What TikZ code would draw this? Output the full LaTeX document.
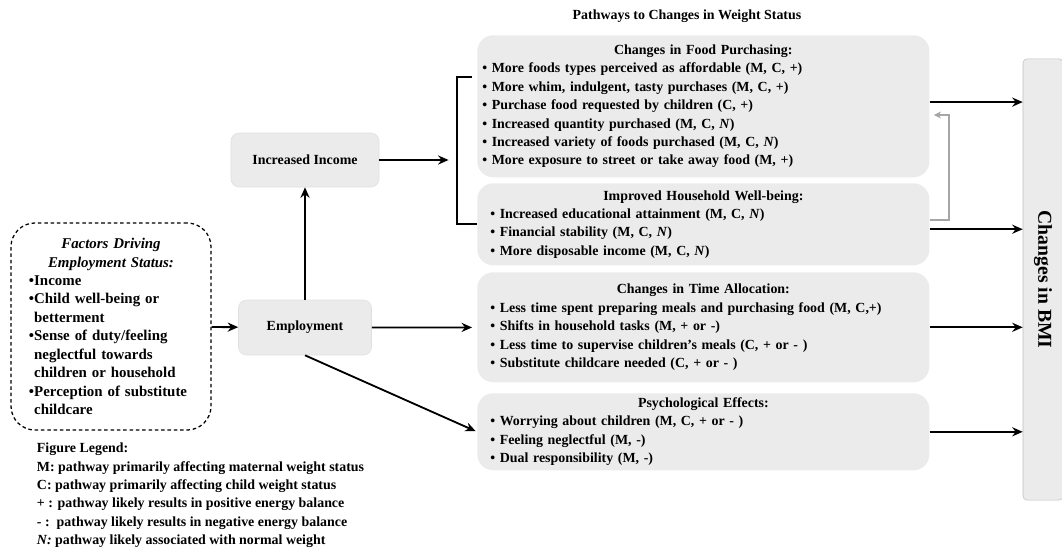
\documentclass[tikz,border=0pt]{standalone}
\usepackage{fontspec}
\setmainfont{Liberation Serif}
\usetikzlibrary{arrows.meta}
\definecolor{boxgray}{HTML}{EBEBEB}

\begin{document}
\begin{tikzpicture}[x=0.025cm, y=-0.025cm,
  every node/.style={font=\fontsize{9.9}{13.1}\selectfont\bfseries},
  pathbox/.style={fill=boxgray, rounded corners=0.4cm, anchor=north west, align=left, inner ysep=0pt},
  midbox/.style={fill=boxgray, draw=black!12, rounded corners=0.2cm},
  arr/.style={line width=1.3pt, -{Stealth[length=7.5pt,width=6.5pt,inset=2.5pt]}},
  fbarr/.style={line width=1.2pt, gray!70, -{Stealth[length=5pt,width=5pt,inset=1.5pt]}}]
\useasboundingbox (0,0) rectangle (1062,549);

\node (heading) at (687,16) {Pathways to Changes in Weight Status};

% pathway boxes
\node[pathbox, inner xsep=0.125cm, text width=11.05cm, minimum height=3.55cm] (food) at (477,35) {%
\makebox[11.05cm]{Changes in Food Purchasing:}\\
\textbullet{} More foods types perceived as affordable (M, C, +)\\
\textbullet{} More whim, indulgent, tasty purchases (M, C, +)\\
\textbullet{} Purchase food requested by children (C, +)\\
\textbullet{} Increased quantity purchased (M, C, \textit{N})\\
\textbullet{} Increased variety of foods purchased (M, C, \textit{N})\\
\textbullet{} More exposure to street or take away food (M, +)};
\node[pathbox, inner xsep=0.325cm, text width=10.65cm, minimum height=2.05cm] (household) at (477,183) {%
\makebox[10.65cm]{Improved Household Well-being:}\\
\textbullet{} Increased educational attainment (M, C, \textit{N})\\
\textbullet{} Financial stability (M, C, \textit{N})\\
\textbullet{} More disposable income (M, C, \textit{N})};
\node[pathbox, inner xsep=0.325cm, text width=10.65cm, minimum height=2.75cm] (time) at (477,272) {%
\makebox[10.65cm]{Changes in Time Allocation:}\\
\textbullet{} Less time spent preparing meals and purchasing food (M, C,+)\\
\textbullet{} Shifts in household tasks (M, + or -)\\
\textbullet{} Less time to supervise children’s meals (C, + or - )\\
\textbullet{} Substitute childcare needed (C, + or - )};
\node[pathbox, inner xsep=0.325cm, text width=10.65cm, minimum height=1.925cm] (psych) at (477,393) {%
\makebox[10.65cm]{Psychological Effects:}\\
\textbullet{} Worrying about children (M, C, + or - )\\
\textbullet{} Feeling neglectful (M, -)\\
\textbullet{} Dual responsibility (M, -)};

\node[fill=boxgray, draw=black!25, rounded corners=0.1cm, rotate=-90, minimum width=11.025cm, minimum height=1cm,
  font=\fontsize{14}{16}\selectfont\bfseries] (bmi) at (1043,279.5) {Changes in BMI};

% left side
\node[draw, dashed, dash pattern=on 2.5pt off 2pt, line width=0.9pt, rounded corners=0.6cm, text width=4.1cm,
  inner xsep=0.45cm, minimum height=5.175cm, align=left, font=\fontsize{10.6}{13.1}\selectfont\bfseries] (factors) at (111,326.5) {%
\makebox[4.1cm]{\itshape Factors Driving}\\
\makebox[4.1cm]{\itshape Employment Status:}\\
\textbullet Income\\
\textbullet Child well-being or\\
\phantom{\textbullet}betterment\\
\textbullet Sense of duty/feeling\\
\phantom{\textbullet}neglectful towards\\
\phantom{\textbullet}children or household\\
\textbullet Perception of substitute\\
\phantom{\textbullet}childcare};
\node[midbox, minimum width=3.7cm, minimum height=1.35cm] (income) at (305,160) {Increased Income};
\node[midbox, minimum width=3.325cm, minimum height=1.375cm] (employment) at (305,327.5) {Employment};

\node[anchor=north west, align=left] (legend) at (32,438) {%
Figure Legend:\\
M: pathway primarily affecting maternal weight status\\
C: pathway primarily affecting child weight status\\
+ : pathway likely results in positive energy balance\\
- :\ \ pathway likely results in negative energy balance\\
\textit{N:} pathway likely associated with normal weight};

% connectors
\coordinate (brtop) at (457,77);
\coordinate (brmid) at (457,160);
\coordinate (brbot) at (457,224);
\coordinate (fbbot) at (949,220);
\coordinate (fbtop) at (949,115);

\draw[arr] (factors) -- (employment);
\draw[arr] (employment) -- (income);
\draw[arr, shorten >=3.5pt] (employment) -- (time);
\draw[arr, shorten >=1pt] (employment.south) -- (psych.west);
\draw[arr, shorten >=6pt] (income) -- (brmid);
\draw[line width=1.3pt, shorten <=3.5pt] (food.west |- brtop) -- (brtop) -- (brbot) -- (household.west |- brbot);

\draw[arr] ([yshift=3pt]food.east) -- ([yshift=3pt]food.east -| bmi.south);
\draw[arr] ([yshift=-3.5pt]household.east) -- ([yshift=-3.5pt]household.east -| bmi.south);
\draw[arr] (time.east) -- (time.east -| bmi.south);
\draw[arr] (psych.east) -- (psych.east -| bmi.south);
\draw[fbarr, shorten >=3pt] (household.east |- fbbot) -- (fbbot) -- (fbtop) -- (food.east |- fbtop);
\end{tikzpicture}
\end{document}
